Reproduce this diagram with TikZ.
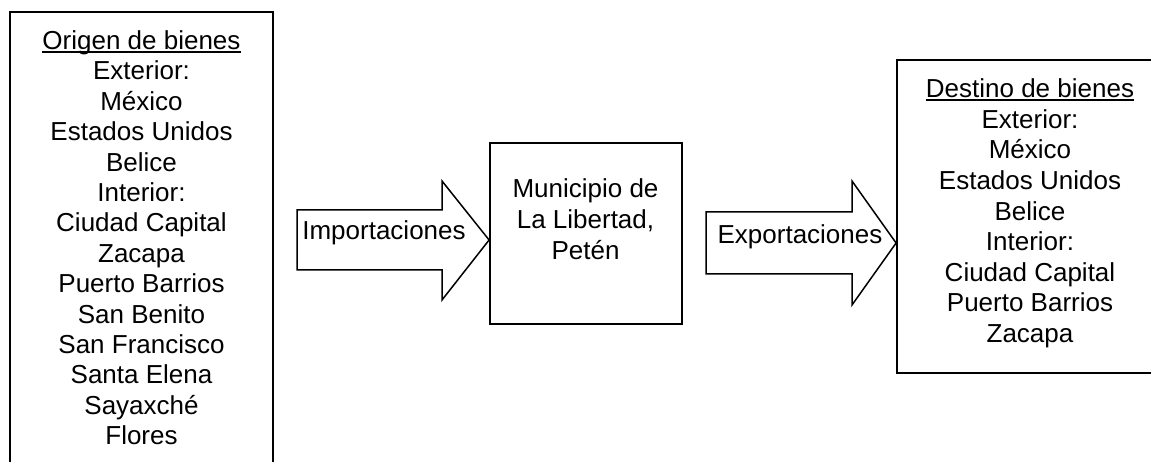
\documentclass[tikz,border=0pt]{standalone}
\usepackage{fontspec}
\setmainfont{Liberation Sans}
\begin{document}
\begin{tikzpicture}[x=1pt,y=-1pt,
  box/.style={draw=black,line width=1.8pt,rectangle,inner sep=0pt},
  blockarrow/.style={draw=black,line width=1.5pt,fill=white,line join=miter},
  txt/.style={inner sep=0pt,anchor=base,font=\fontsize{26}{30}\selectfont},
  uline/.style={line width=1.6pt}]
\useasboundingbox (0,0) rectangle (1151,462);
\clip (0,0) rectangle (1151,462);
\fill[white] (0,0) rectangle (1151,462);
% boxes
\node[box,minimum width=263pt,minimum height=500pt] (src) at (141.5,262) {};
\node[box,minimum width=192pt,minimum height=181pt] (mun) at (586,233.5) {};
\node[box,minimum width=266pt,minimum height=313pt] (dst) at (1030,216.5) {};
% block arrows
\coordinate (i0) at (297,210);
\draw[blockarrow] (i0) -- (442,210) -- (442,181) -- (mun.west |- 0,240) -- (442,300) -- (442,270) -- (297,270) -- cycle;
\coordinate (e0) at (706,212);
\draw[blockarrow] (e0) -- (852,212) -- (852,181) -- (dst.west |- 0,243) -- (852,305) -- (852,274) -- (706,274) -- cycle;
\node[txt] (imp) at (384,239.5) {Importaciones};
\node[txt] (exp) at (800,243.5) {Exportaciones};
% left box text
\foreach \t [count=\i] in {Origen de bienes,Exterior:,México,Estados Unidos,Belice,Interior:,Ciudad Capital,Zacapa,Puerto Barrios,San Benito,San Francisco,Santa Elena,Sayaxché,Flores}
  \node[txt] (o\i) at (141.5,{49.5+(\i-1)*30.4}) {\t};
\draw[uline] ([yshift=-2.5pt]o1.base west) -- ([yshift=-2.5pt]o1.base east);
% middle text
\node[txt] (m1) at (585.5,197.5) {Municipio de};
\node[txt] (m2) at (585.5,228.5) {La Libertad,};
\node[txt] (m3) at (585.5,259.5) {Petén};
% right box text
\foreach \t [count=\i] in {Destino de bienes,Exterior:,México,Estados Unidos,Belice,Interior:,Ciudad Capital,Puerto Barrios,Zacapa}
  \node[txt] (d\i) at (1030,{97.7+(\i-1)*30.6}) {\t};
\draw[uline] ([yshift=-2.5pt]d1.base west) -- ([yshift=-2.5pt]d1.base east);
\end{tikzpicture}
\end{document}
